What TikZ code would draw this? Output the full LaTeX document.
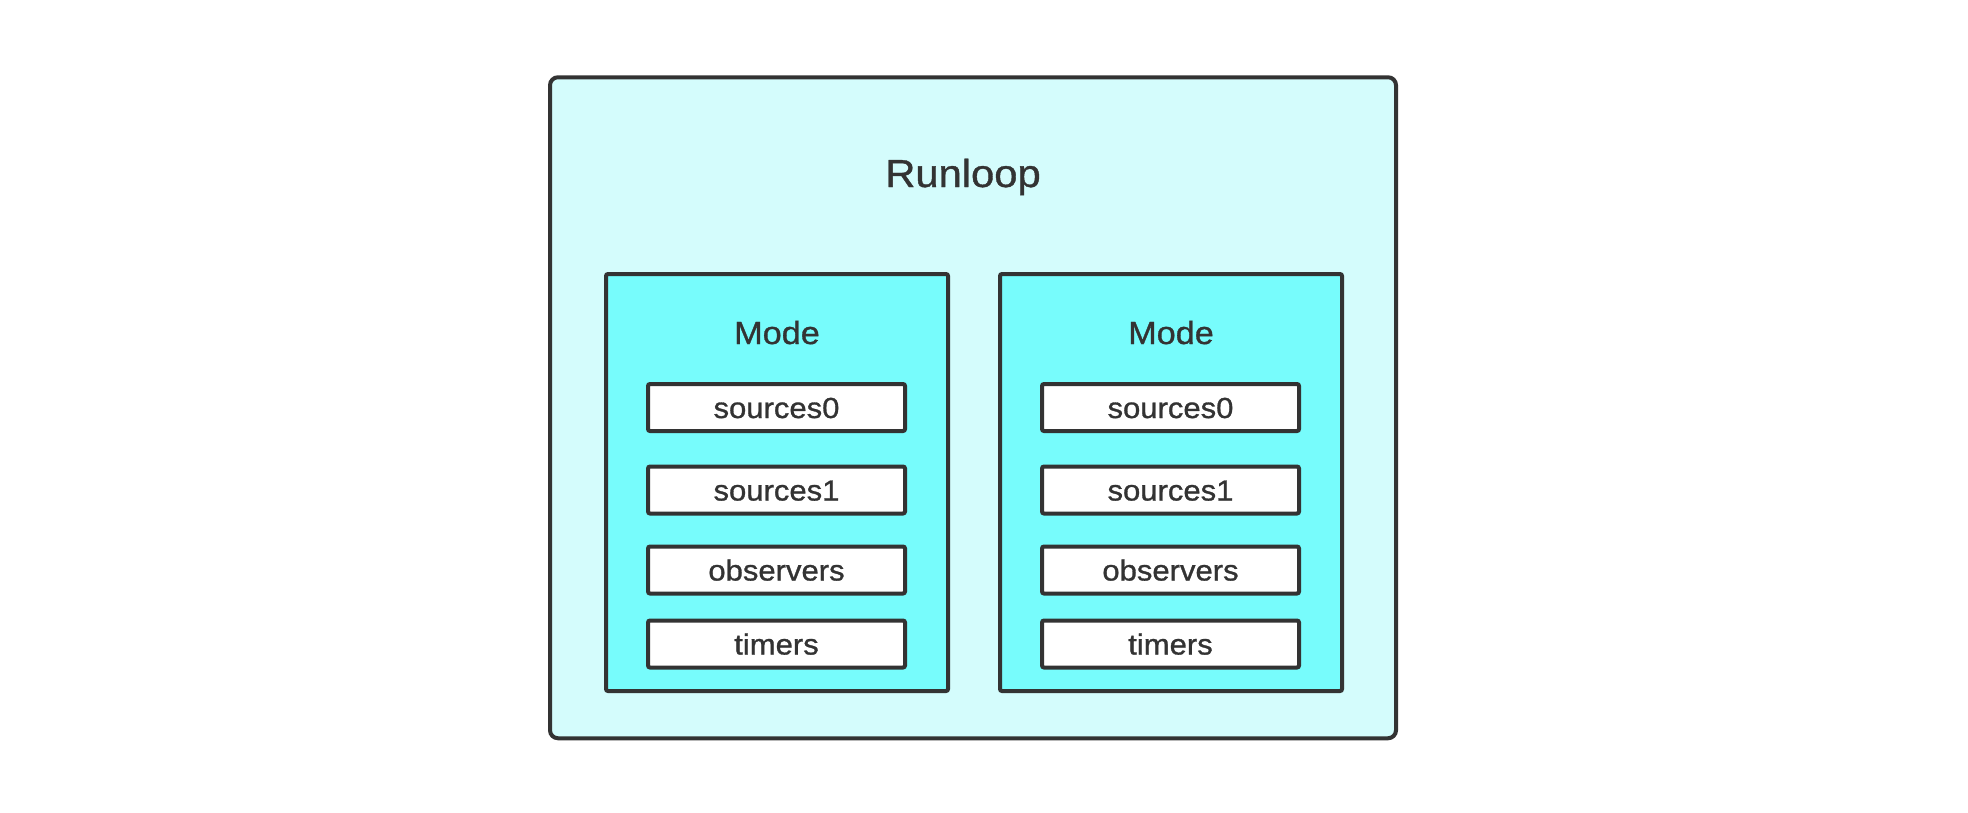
\documentclass[tikz,border=0pt]{standalone}
\usepackage{fontspec}
\setmainfont{Liberation Sans}[FakeStretch=1.07, FakeBold=1]
\definecolor{inkgray}{HTML}{333333}
\definecolor{loopfill}{HTML}{D4FCFC}
\definecolor{modefill}{HTML}{77FCFC}
\begin{document}
\begin{tikzpicture}[x=1pt,y=-1pt,
  outerbox/.style={draw=inkgray, fill=loopfill, line width=4pt, rounded corners=8pt,
    minimum width=846pt, minimum height=661pt, inner sep=0pt},
  modebox/.style={draw=inkgray, fill=modefill, line width=4pt, rounded corners=2pt,
    minimum width=342pt, minimum height=417pt, inner sep=0pt},
  itembox/.style={draw=inkgray, fill=white, line width=4pt, rounded corners=2pt,
    minimum width=257pt, minimum height=47pt, inner sep=0pt,
    text=inkgray, font=\fontsize{29}{35}\selectfont, text height=21pt, text depth=0pt},
  title/.style={text=inkgray, anchor=base, inner sep=0pt},
]
\useasboundingbox (0,0) rectangle (1968,812);

% run loop container
\node[outerbox] (loop) at (973,407.75) {};
\node[title, font=\fontsize{39}{47}\selectfont] (looplabel) at (963,187) {Runloop};

% left mode
\node[modebox] (modeA) at (777,482.5) {};
\node[title, font=\fontsize{32}{38}\selectfont] (modeAlabel) at (777,344) {Mode};
\node[itembox] (srcA0) at (776.5,407.5) {sources0};
\node[itembox] (srcA1) at (776.5,490) {sources1};
\node[itembox] (obsA) at (776.5,570) {observers};
\node[itembox] (timA) at (776.5,644) {timers};

% right mode
\node[modebox] (modeB) at (1171,482.5) {};
\node[title, font=\fontsize{32}{38}\selectfont] (modeBlabel) at (1171,344) {Mode};
\node[itembox] (srcB0) at (1170.5,407.5) {sources0};
\node[itembox] (srcB1) at (1170.5,490) {sources1};
\node[itembox] (obsB) at (1170.5,570) {observers};
\node[itembox] (timB) at (1170.5,644) {timers};
\end{tikzpicture}
\end{document}
